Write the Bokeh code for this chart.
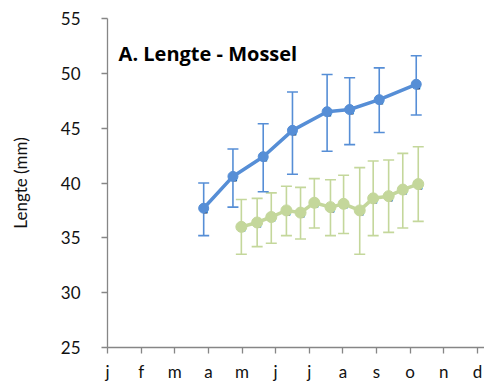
from bokeh.plotting import figure
from bokeh.models import ColumnDataSource, Whisker, TeeHead, Label, Range1d, FixedTicker
from bokeh.core.properties import value
from bokeh.embed import file_html
from bokeh.resources import INLINE

# ---- data ----
month_labels = ["j", "f", "m", "a", "m", "j", "j", "a", "s", "o", "n", "d"]

blue_x = [2.86, 3.73, 4.63, 5.50, 6.53, 7.20, 8.08, 9.18]
blue_y = [37.7, 40.6, 42.4, 44.8, 46.5, 46.7, 47.6, 49.0]
blue_hi = [40.0, 43.1, 45.4, 48.3, 49.9, 49.6, 50.5, 51.6]
blue_lo = [35.2, 37.8, 39.2, 40.8, 42.9, 43.5, 44.6, 46.2]

green_x = [3.98, 4.45, 4.87, 5.32, 5.74, 6.15, 6.63, 7.02, 7.50, 7.90, 8.36, 8.78, 9.24]
green_y = [36.0, 36.4, 36.9, 37.5, 37.3, 38.2, 37.8, 38.1, 37.5, 38.6, 38.8, 39.4, 39.9]
green_hi = [38.5, 38.6, 39.1, 39.7, 39.6, 40.4, 40.3, 40.7, 41.4, 42.0, 42.1, 42.7, 43.3]
green_lo = [33.5, 34.2, 34.5, 35.2, 34.9, 35.9, 35.2, 35.4, 33.5, 35.2, 35.5, 35.9, 36.5]

title_text = "A. Lengte - Mossel"
y_label = "Lengte (mm)"

BLUE = "#568ed6"
GREEN = "#c4d79b"
AXIS = "#868686"
FONT = "Lato"

p = figure(width=484, height=385, output_backend="svg", toolbar_location=None,
           x_range=Range1d(0, 11.21), y_range=Range1d(25, 55),
           min_border_left=107, min_border_top=18, min_border_bottom=38, min_border_right=0)
p.outline_line_color = None
p.grid.visible = False
p.background_fill_color = "white"
p.border_fill_color = "white"

# axes
p.yaxis.ticker = FixedTicker(ticks=[25, 30, 35, 40, 45, 50, 55])
p.xaxis.ticker = FixedTicker(ticks=list(range(12)))
p.xaxis.major_label_overrides = {i: m for i, m in enumerate(month_labels)}
for ax in (p.xaxis, p.yaxis):
    ax.axis_line_color = AXIS
    ax.axis_line_width = 1.3
    ax.major_tick_line_color = AXIS
    ax.major_tick_line_width = 1.3
    ax.major_tick_in = 0
    ax.major_tick_out = 6
    ax.minor_tick_line_color = None
    ax.major_label_text_font = FONT
    ax.major_label_text_font_size = "17px"
    ax.major_label_text_color = "#111111"
p.yaxis.major_label_standoff = 21
p.xaxis.major_label_standoff = 7
p.yaxis.axis_label = y_label
p.yaxis.axis_label_text_font = FONT
p.yaxis.axis_label_text_font_size = "17px"
p.yaxis.axis_label_text_font_style = "normal"
p.yaxis.axis_label_text_color = "#111111"
p.yaxis.axis_label_standoff = 27

# green series
gsrc = ColumnDataSource(dict(x=green_x, y=green_y, hi=green_hi, lo=green_lo))
p.add_layout(Whisker(source=gsrc, base="x", upper="hi", lower="lo", dimension="height",
                     line_color=GREEN, line_width=1.6,
                     upper_head=TeeHead(size=11, line_color=GREEN, line_width=1.6),
                     lower_head=TeeHead(size=11, line_color=GREEN, line_width=1.6)))
p.line("x", "y", source=gsrc, line_color=GREEN, line_width=3.5)
p.text("x", "y", text=value("\u25A0"), source=gsrc, text_font_size="7px", text_color="black",
       text_align="center", text_baseline="middle", x_offset=2, y_offset=3)
p.scatter("x", "y", source=gsrc, size=11, fill_color=GREEN, line_color=GREEN)

# blue series
bsrc = ColumnDataSource(dict(x=blue_x, y=blue_y, hi=blue_hi, lo=blue_lo))
p.add_layout(Whisker(source=bsrc, base="x", upper="hi", lower="lo", dimension="height",
                     line_color=BLUE, line_width=1.6,
                     upper_head=TeeHead(size=11, line_color=BLUE, line_width=1.6),
                     lower_head=TeeHead(size=11, line_color=BLUE, line_width=1.6)))
p.line("x", "y", source=bsrc, line_color=BLUE, line_width=3.5)
p.text("x", "y", text=value("\u25A0"), source=bsrc, text_font_size="7px", text_color="black",
       text_align="center", text_baseline="middle", x_offset=2, y_offset=3)
p.scatter("x", "y", source=bsrc, size=10, fill_color=BLUE, line_color=BLUE)

# title inside the plot
p.add_layout(Label(x=0.33, y=51.8, text=title_text, text_font="Open Sans", text_font_size="20px",
                   text_font_style="bold", text_color="black", text_baseline="alphabetic"))

open("out.html", "w").write(file_html(p, INLINE))
